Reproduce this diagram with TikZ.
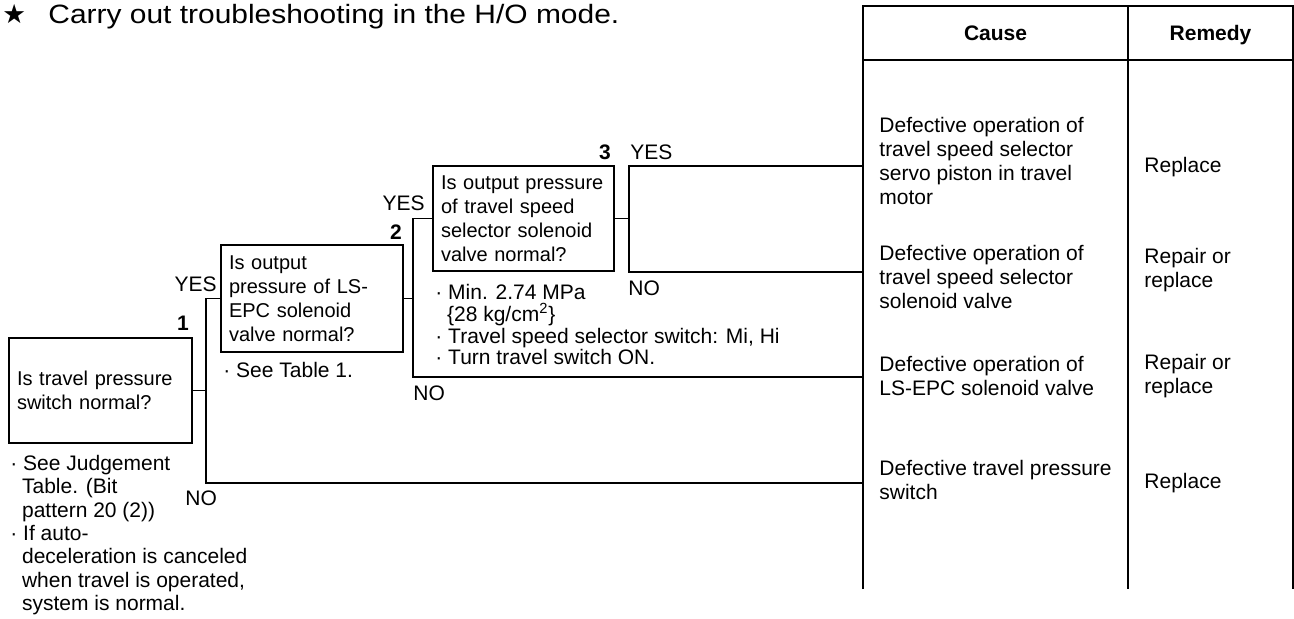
\documentclass[tikz,border=0pt]{standalone}
\usepackage{graphicx}
\usepackage{fontspec}
\setmainfont{Liberation Sans}
\newfontfamily\symbfont{DejaVu Sans}
\newcommand{\noteind}{\hspace*{0.556em}}

\tikzset{
  qbox/.style={draw, line width=1.1pt, align=left, inner xsep=4pt, inner ysep=0pt,
    font=\fontsize{10}{12}\selectfont},
  wire/.style={line width=0.9pt},
  frame/.style={line width=1pt},
  txt/.style={inner sep=0pt, align=left, font=\fontsize{10.5}{12}\selectfont},
  num/.style={inner sep=0pt, font=\bfseries\fontsize{10.5}{12}\selectfont},
}

\begin{document}
\begin{tikzpicture}[x=50pt, y=-50pt]
    \useasboundingbox (0,0) rectangle (12.94,6.19);

    \node[txt, anchor=west, font=\fontsize{13.25}{15}\selectfont] (title) at (0.02,0.17)
        {\makebox[23pt][l]{\symbfont ★}\scalebox{1.13}[1]{Carry out troubleshooting in the H/O mode.}};

    % cause / remedy table
    \coordinate (r1) at (8.63,1.66);
    \coordinate (r2) at (8.63,2.72);
    \coordinate (r3) at (8.63,3.77);
    \coordinate (r4) at (8.63,4.83);
    \draw[frame] (8.63,5.89) -- (8.63,0.06) -- (12.93,0.06) -- (12.93,5.89);
    \draw[frame] (8.63,0.60) -- (12.93,0.60);
    \draw[frame] (11.28,0.06) -- (11.28,5.89);
    \node[num, anchor=base] (hcause) at (9.955,0.405) {Cause};
    \node[num, anchor=base] (hremedy) at (12.105,0.405) {Remedy};

    \node[txt, anchor=west] (c1) at (8.79,1.61) {Defective operation of\\travel speed selector\\servo piston in travel\\motor};
    \node[txt, anchor=west] (c2) at (8.79,2.77) {Defective operation of\\travel speed selector\\solenoid valve};
    \node[txt, anchor=west] (c3) at (8.79,3.76) {Defective operation of\\LS-EPC solenoid valve};
    \node[txt, anchor=west] (c4) at (8.79,4.80) {Defective travel pressure\\switch};
    \node[txt, anchor=west] (m1) at (11.44,1.67) {Replace};
    \node[txt, anchor=west] (m2) at (11.44,2.70) {Repair or\\replace};
    \node[txt, anchor=west] (m3) at (11.44,3.76) {Repair or\\replace};
    \node[txt, anchor=west] (m4) at (11.44,4.83) {Replace};

    % check boxes
    \node[qbox, minimum width=91.5pt, text width=83.5pt, minimum height=52.5pt] (q1) at (1.005,3.905)
        {Is travel pressure\\switch normal?};
    \node[qbox, minimum width=91pt, text width=83pt, minimum height=53.5pt] (q2) at (3.12,2.985)
        {Is output\\pressure of LS-\\EPC solenoid\\valve normal?};
    \node[qbox, minimum width=90.5pt, text width=82.5pt, minimum height=52.5pt] (q3) at (5.235,2.185)
        {Is output pressure\\of travel speed\\selector solenoid\\valve normal?};

    \node[num] (s1) at (1.83,3.23) {1};
    \node[num] (s2) at (3.96,2.32) {2};
    \node[num] (s3) at (6.05,1.52) {3};

    \node[txt, anchor=north west, font=\fontsize{10.5}{11.65}\selectfont] (note1) at (0.10,4.55)
        {· See Judgement\\\noteind Table. (Bit\\\noteind pattern 20 (2))\\· If auto-\\\noteind deceleration is canceled\\\noteind when travel is operated,\\\noteind system is normal.};
    \node[txt, anchor=north west] (note2) at (2.23,3.62) {· See Table 1.};
    \node[txt, anchor=north west, font=\fontsize{10.5}{10.85}\selectfont] (note3) at (4.35,2.84)
        {· Min. 2.74 MPa\\\noteind\{28 kg/cm\textsuperscript{2}\}\\· Travel speed selector switch: Mi, Hi\\· Turn travel switch ON.};

    % branches
    \coordinate (f1) at (2.06,0);
    \coordinate (f2) at (4.13,0);
    \coordinate (f3) at (6.29,0);
    \draw[wire] (q1.east) -- (q1.east -| f1);
    \draw[wire] (q2.west) -| (f1 |- r4) -- (r4);
    \draw[wire] (q2.east) -- (q2.east -| f2);
    \draw[wire] (q3.west) -| (f2 |- r3) -- (r3);
    \draw[wire] (q3.east) -- (q3.east -| f3);
    \draw[wire] (r1) -| (f3 |- r2) -- (r2);

    \node[txt, anchor=east] (yes1) at (2.17,2.84) {YES};
    \node[txt, anchor=east] (yes2) at (4.25,2.03) {YES};
    \node[txt, anchor=west] (yes3) at (6.30,1.52) {YES};
    \node[txt, anchor=west] (no1) at (1.85,4.98) {NO};
    \node[txt, anchor=west] (no2) at (4.13,3.93) {NO};
    \node[txt, anchor=west] (no3) at (6.28,2.88) {NO};
\end{tikzpicture}
\end{document}
